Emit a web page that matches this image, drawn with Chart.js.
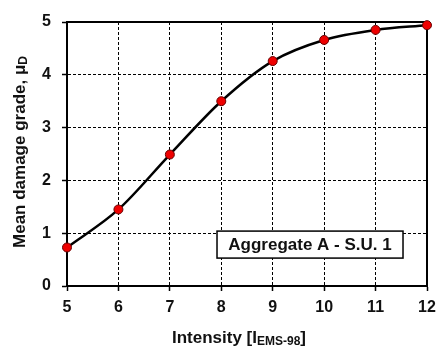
<!DOCTYPE html>
<html>
<head>
<meta charset="utf-8">
<script src="https://cdn.jsdelivr.net/npm/chart.js@4.4.0/dist/chart.umd.min.js"></script>
<style>
  body { margin: 0; background: #fff; }
  #wrap { width: 437px; height: 349px; }
</style>
</head>
<body>
<div id="wrap"><canvas id="damageChart"></canvas></div>
<script>
// Intensity (EMS-98) vs mean damage grade
const intensities = [5, 6, 7, 8, 9, 10, 11, 12];
const meanDamage = [0.73, 1.45, 2.49, 3.50, 4.26, 4.66, 4.85, 4.94];
const yTicks = [0, 1, 2, 3, 4, 5];
const boxLabel = 'Aggregate A - S.U. 1';

const FONT = '"Liberation Sans", Arial, sans-serif';

// draws text made of parts (for subscripts), centered on x
function drawSubText(ctx, parts, x, y) {
    let total = 0;
    parts.forEach(p => {
        ctx.font = p.font;
        total += ctx.measureText(p.text).width;
    });
    let cx = x - total / 2;
    parts.forEach(p => {
        ctx.font = p.font;
        ctx.textAlign = 'left';
        ctx.textBaseline = 'middle';
        ctx.fillText(p.text, cx, y + (p.dy || 0));
        cx += ctx.measureText(p.text).width;
    });
}

const decorPlugin = {
    id: 'decor',
    beforeDatasetsDraw(chart) {
        const { ctx, chartArea: a } = chart;
        ctx.save();
        ctx.strokeStyle = '#000';
        ctx.lineWidth = 2;
        ctx.strokeRect(a.left, a.top, a.right - a.left, a.bottom - a.top);

        // annotation box
        const bx = a.left + (a.right - a.left) * 0.4167;
        const by = a.top + (a.bottom - a.top) * 0.792;
        const bw = 186, bh = 27;
        ctx.fillStyle = '#fff';
        ctx.fillRect(bx, by, bw, bh);
        ctx.lineWidth = 1.5;
        ctx.strokeRect(bx, by, bw, bh);
        ctx.fillStyle = '#111';
        ctx.font = 'bold 17px ' + FONT;
        ctx.textAlign = 'center';
        ctx.textBaseline = 'middle';
        ctx.fillText(boxLabel, bx + bw / 2, by + bh / 2 + 1);
        ctx.restore();
    },
    afterDraw(chart) {
        const { ctx } = chart;
        ctx.save();
        ctx.fillStyle = '#111';
        // x axis title
        drawSubText(ctx, [
            { text: 'Intensity [I', font: 'bold 17px ' + FONT },
            { text: 'EMS-98', font: 'bold 12px ' + FONT, dy: 4 },
            { text: ']', font: 'bold 17px ' + FONT }
        ], 239, 338);
        // y axis title
        ctx.translate(20, 152);
        ctx.rotate(-Math.PI / 2);
        drawSubText(ctx, [
            { text: 'Mean damage grade, \u03bc', font: 'bold 17px ' + FONT },
            { text: 'D', font: 'bold 12px ' + FONT, dy: 4 }
        ], 0, 0);
        ctx.restore();
    }
};

function createChart() {
    const ctx = document.getElementById('damageChart').getContext('2d');
    return new Chart(ctx, {
        type: 'line',
        data: {
            datasets: [{
                data: intensities.map((x, i) => ({ x: x, y: meanDamage[i] })),
                borderColor: '#000',
                borderWidth: 2.5,
                tension: 0.4,
                cubicInterpolationMode: 'monotone',
                pointBackgroundColor: '#ee0000',
                pointBorderColor: '#600',
                pointBorderWidth: 1,
                pointRadius: 4.5,
                clip: false
            }]
        },
        options: {
            responsive: true,
            maintainAspectRatio: false,
            animation: false,
            events: [],
            layout: { padding: { top: 22, right: 10, left: 0, bottom: 0 } },
            plugins: { legend: { display: false }, tooltip: { enabled: false } },
            scales: {
                x: {
                    type: 'linear',
                    min: 5,
                    max: 12,
                    afterFit: s => { s.height = 63; s.paddingLeft = 0; s.paddingRight = 0; },
                    ticks: {
                        stepSize: 1,
                        padding: 7,
                        color: '#111',
                        font: { family: FONT, size: 16, weight: 'bold' }
                    },
                    grid: { color: '#000', lineWidth: 1, tickLength: 5, tickColor: '#000', tickWidth: 1.5 },
                    border: { color: '#000', width: 2, dash: [3, 2] }
                },
                y: {
                    min: 0,
                    max: 5,
                    afterFit: s => { s.width = 67; s.paddingTop = 0; s.paddingBottom = 0; },
                    afterBuildTicks: s => { s.ticks = yTicks.map(v => ({ value: v })); },
                    ticks: {
                        padding: 11,
                        color: '#111',
                        font: { family: FONT, size: 16, weight: 'bold' }
                    },
                    grid: { color: '#000', lineWidth: 1, tickLength: 5, tickColor: '#000', tickWidth: 1.5 },
                    border: { color: '#000', width: 2, dash: [3, 2] }
                }
            }
        },
        plugins: [decorPlugin]
    });
}

let chart = createChart();
</script>
</body>
</html>
